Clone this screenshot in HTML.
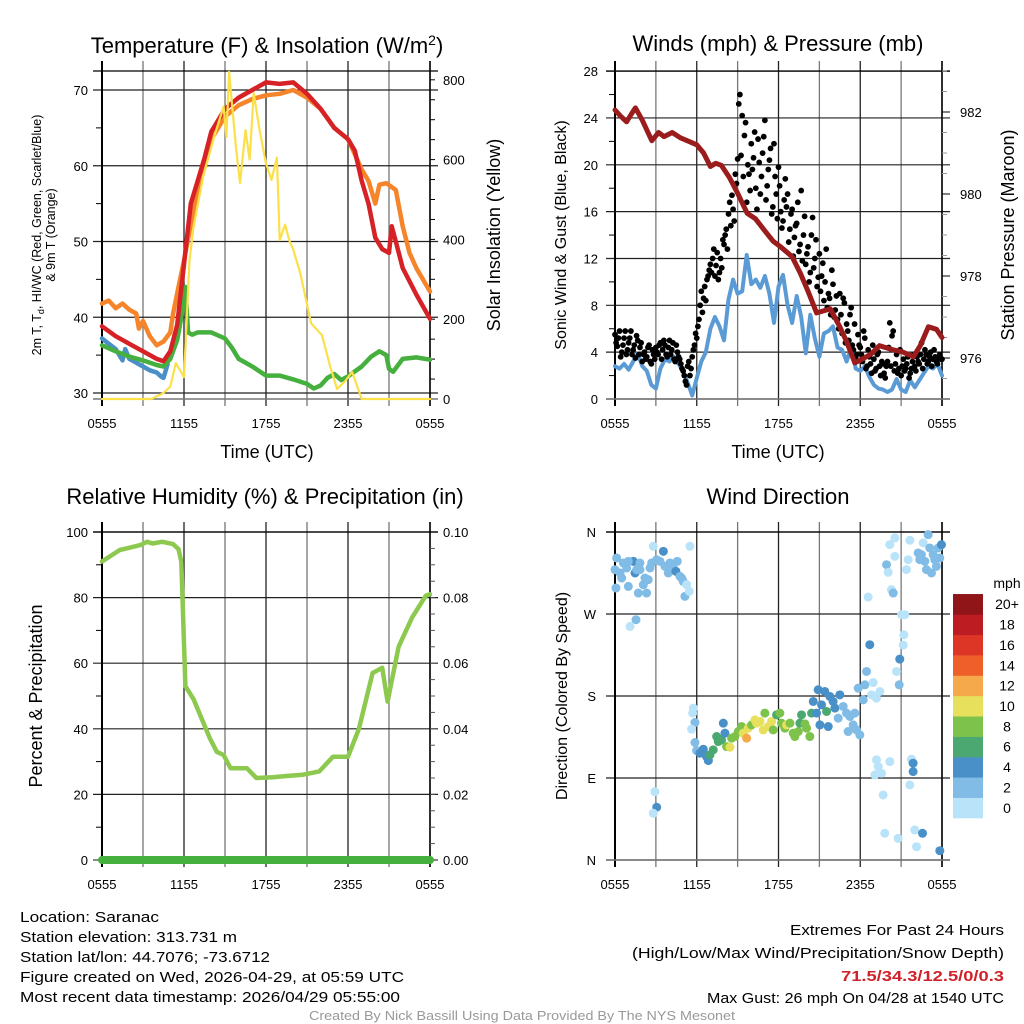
<!DOCTYPE html>
<html><head><meta charset="utf-8"><style>
html,body{margin:0;padding:0;background:#fff;}
svg{display:block;font-family:"Liberation Sans",sans-serif;}
</style></head><body>
<svg id="c" width="1024" height="1024" viewBox="0 0 1024 1024"></svg>
<script>
// ---------- DATA ----------
const tempRedH=[0,1,2,3,4,4.5,5,5.5,6,6.5,7,7.5,8,9,10,11,12,13,14,15,16,17,18,18.5,19,19.5,20,20.5,21,21.2,21.5,22,23,24];
const tempRedV=[38.8,37.5,36.5,35.5,34.5,34.2,35.5,39,47,55,58,61,64.5,67.5,69,70,71,70.8,71,69.5,67.5,65,63.5,62,58,55,50.5,49,48.5,52,50,46.5,43,39.8];
const tempOrH=[0,0.5,1,1.5,2,2.5,2.7,3,3.5,4,4.5,5,5.2,5.6,6,7,8,9,10,11,12,13,14,15,16,17,18,19,19.5,20,20.3,20.8,21.5,22,22.5,23,24];
const tempOrV=[41.8,42.2,41.2,41.8,41,40.5,38.5,39.5,37.5,36.3,36.8,38,40.5,44,47.5,57,63.5,66.5,68,68.8,69.3,69.5,70,69,67.5,65,63.5,59.5,58,55,57.5,57.7,56.8,52,48.5,46.5,43.4];
const dewH=[0,1,2,3,4,4.5,5,5.5,5.8,6.1,6.3,6.6,7,8,9,9.5,10,11,12,13,14,15,15.5,16,16.5,17,17.5,18,19,19.7,20.3,20.8,21,21.3,22,23,24];
const dewV=[36.3,35.5,34.8,34.3,33.7,33.5,34.5,37,40,44,38,37.7,38,38,37.2,36,34.5,33.5,32.3,32.3,31.8,31.2,30.6,31,32,32.5,31.7,32.2,33.5,34.8,35.5,35,33.2,32.8,34.5,34.7,34.4];
const wcH=[0,0.5,1,1.5,1.7,2,2.5,3,3.5,4,4.3,4.5,4.8];
const wcV=[37.2,36.5,35.8,34.3,35.8,34.5,34,33.5,33,32.7,32.2,32,33.8];
const solH=[0,3.6,4.5,5,5.4,6,6.4,6.7,7.4,8.2,8.9,9.1,9.3,9.8,10.1,10.5,10.8,11.1,11.5,12,12.4,12.8,13,13.4,13.7,14,14.5,15.3,16.1,16.7,17.2,17.8,18.3,19,24];
const solV=[0,0,15,31,90,55,348,432,557,657,733,657,820,632,541,674,600,767,680,590,549,605,398,437,398,374,316,190,160,81,25,45,68,0,0];
// winds: sonic every 20 min, gust every 10 min (two offset series)
const sonicV=[2.8,2.6,3.0,2.5,3.2,3.9,2.8,2.4,1.2,0.9,2.6,3.4,3.2,3.6,3.0,2.4,1.4,0.3,1.8,3.2,4.0,6.0,7.0,6.2,5.0,8.5,10.2,9.0,9.2,12.3,9.8,10.2,9.5,10.5,9.0,6.5,9.6,10.6,8.0,6.5,8.8,7.0,3.9,7.2,5.2,3.6,5.6,5.8,6.2,4.4,4.2,3.2,4.4,2.6,2.4,2.8,1.9,1.2,0.9,0.8,0.6,0.8,1.7,0.8,0.6,1.6,1.0,1.6,2.2,2.8,2.6,3.0,2.0];
const gustV=[5.5,4.5,5.8,4,5.2,3.8,4.8,5.8,4.2,3.5,5,4.4,3.2,4,3.6,4.6,3,3.8,4.4,3.8,4.8,4.2,4.6,3.6,5,4.2,3.4,4.6,3.6,3,2.4,1.5,2.8,2,3.6,4.6,5.2,6.8,9.2,8.6,8.4,10.5,11.5,12,10.5,12.5,10.8,11.2,13.2,14.5,15.8,14.8,16.2,19.2,20.5,26,24.2,22.5,16.8,19.2,21.8,20.6,18,22.2,17.5,21,23.8,18.2,20.4,15.8,21.8,17.5,19.8,16,15.2,18.8,17.5,14.5,16.2,13.8,15,12.6,17.8,14,11.5,13,10.8,15.5,12,9.6,12.4,10.5,8.4,12.8,9,7.2,9.8,7.6,6.8,9,5.6,8.2,6.4,5,7.8,4.2,3.6,5.5,4.4,3.2,5.2,2.8,3.6,2.2,3.4,2.6,4,2,3,1.8,3.2,6.5,5.4,2.4,3.8,2.6,2,3.4,2.6,3.6,2.2,3.2,2.8,3.6,3,4.8,3.4,3.8,3.2,4,3.4,3.6,3,3.8,3.4];
const gustV2=[4.8,5.2,3.6,4.6,5.8,4.2,5.2,3.8,4.6,5.4,3.8,4.8,3.8,3.4,4.4,3.2,4.2,3.4,4,4.6,3.4,5,3.8,4.4,3.8,4.8,3.2,4,3.4,2.6,2,1.2,3.2,2.6,4.2,5.6,6.2,8,7.4,9.6,10.2,11,10.8,12.8,11.4,10.2,12,13.6,14,12.8,16.8,17.4,15.2,18.4,25.2,20.8,19,23.6,20,17.8,19.6,22.8,16.2,20.2,19,22.4,17,19.6,21.4,16.4,19,15.4,18.2,14.6,17,16.4,13.4,15.8,12.2,14.8,16.8,13.2,11.8,15.6,12.4,10,14,11.2,13.6,10.4,9.2,11.6,10,7.8,8.6,11,7,8.8,6,7.2,8.6,4.8,5.8,7.2,4.6,6.4,3.8,4.6,3.8,5.8,2.6,4.2,3,4.6,2.4,3.8,2.8,3.2,2.2,2.8,4.4,2.8,5.8,3,2.2,4.2,2.8,2.4,3,1.8,2.6,3.8,2.4,3.2,3.8,2.6,4.2,3,3.6,2.8,4.2,3.2,3.6,3.4];
const presH=[0,0.4,0.85,1.2,1.5,2,2.7,3.2,3.6,4.2,4.8,5.3,6,6.5,7,7.4,7.8,8.4,9,9.7,10.3,11,11.6,12.2,13,13.6,14.2,14.8,15.3,15.8,16.5,17,17.6,18.3,18.8,19.4,20.4,21.1,21.9,22.4,23,23.6,24];
const presV=[982.05,981.9,981.76,981.95,982.1,981.8,981.3,981.5,981.4,981.5,981.37,981.3,981.2,981.0,980.67,980.75,980.7,980.4,980.02,979.53,979.4,979.1,978.85,978.7,978.47,978.07,977.6,977.1,977.15,977.2,976.76,976.4,975.88,976,976.1,976.3,976.2,976.15,976.03,976.3,976.76,976.7,976.5];
const rhH=[0,1.3,2.8,3.3,3.7,4.4,5.2,5.6,5.8,6.1,6.7,7.3,7.9,8.4,8.9,9.4,10.6,11.3,12.5,13.5,14.7,15.9,16.9,18,18.8,19.8,20.5,20.9,21.7,22.7,23.7,24];
const rhV=[91,94.5,96,97,96.5,97,96.3,94.8,91,53,49,43,37,33,32,28,28,25,25.2,25.6,26,27,31.5,31.5,40,57,58.6,48.3,65,74,80.6,81];
const precipH=[0,24];
const precipV=[0,0];
const dirH=[0,0.12,0.37,0.61,0.86,0.98,1.34,1.47,1.59,1.71,1.83,2.08,2.2,2.32,2.44,2.57,2.69,2.81,3.06,3.3,3.55,3.67,3.91,4.03,4.28,4.47,4.57,4.77,4.89,5.01,5.13,5.26,5.45,5.5,1.1,1.54,0.07,0.98,1.83,0.49,2.93,3.06,2.81,
5.75,5.7,5.87,5.62,5.87,5.99,6.23,6.48,6.72,6.85,6.97,7.21,7.46,7.58,7.82,7.95,8.07,8.19,8.44,8.56,8.8,9.05,9.29,9.41,9.66,9.78,10.02,10.27,10.39,10.64,10.88,11,11.25,11.49,11.61,11.86,12.1,12.22,12.47,12.59,12.84,13.08,13.2,13.45,13.57,13.69,13.94,14.06,14.3,14.43,14.55,14.79,14.91,15.04,15.16,15.4,15.53,15.65,15.77,16.01,16.14,16.38,16.5,16.75,16.99,17.11,17.24,17.48,17.6,17.73,17.97,17.85,18.22,18.34,18.46,18.7,18.83,18.95,19.19,19.44,
18.58,19.93,20.05,20.17,20.29,20.42,20.54,20.54,20.66,20.86,20.9,21.03,21.15,21.2,21.27,21.39,21.52,21.64,22.25,22.37,22.49,22.62,22.74,22.86,22.98,23.1,23.23,23.35,23.47,23.59,23.72,23.84,23.96,
19.19,19.32,19.07,19.56,19.68,20.17,19.8,20.78,21.76,21.88,21.88,21.64,22,22.13,22.57,23.84];
const dirDeg=[318.6,331.5,315,326,320.5,300.3,327.8,315,318.7,293,326,302.2,309.5,293,307.7,320.5,326,344.3,329.6,327.8,338.8,322.3,315,326,320.5,316.8,327.8,311.3,309.5,305.8,289.4,302.2,294.9,344.3,256.4,263.7,298.5,327.8,318.7,309.5,75,57.9,51.3,
166.7,161.2,150.9,143.6,128.9,120.1,117.2,121.6,113.5,109.1,115.4,120.9,135.5,130,131.8,150.2,139.2,124.5,123.8,133.7,135.5,141,146.5,139.2,133.7,144.7,148.3,153.8,150.2,152,142.8,161.2,146.5,152,142.8,159.3,161.2,150.2,144.7,148.3,150.2,139.2,135.5,141,150.2,159.3,149.4,144.7,135.5,161.2,174,161.2,186.8,148.3,170.3,185,163,146.5,179.5,174,166.7,155.7,181.3,168.5,161.2,141,157.5,148.3,161.2,142.8,137.3,188.6,175.8,192.3,206.9,236.3,181.3,194.8,177.6,185,
288.6,324.1,315.7,346.2,296.7,293,333.3,353.5,206.9,192.3,220.5,269.2,235.9,247.2,269.2,318.7,329.6,350.9,337,329.6,335.1,348,327.8,318.7,357.1,342.5,315,335.1,329.6,322.3,342.5,331.5,346.1,
109.9,102.5,93.4,95.2,71.4,108,29.3,23.8,110.6,106.2,97,82.4,33,14.6,29.3,10.2];
const dirSpd=[3,3,3,3,3,3,5,5,3,3,3,3,3,3,3,3,3,1,3,3,5,3,3,3,3,5,3,3,3,3,3,1,1,1,1,3,3,3,3,3,1,5,1,
1,1,3,1,3,3,5,5,5,5,7,7,7,7,7,5,5,9,11,9,9,9,9,11,13,11,9,11,11,11,11,9,11,11,9,7,9,9,9,11,9,9,9,9,7,7,9,9,9,7,5,5,5,5,5,5,7,5,5,5,5,3,5,3,3,3,3,3,3,3,3,3,3,3,3,5,1,1,1,1,
1,3,1,1,1,3,1,1,1,3,5,1,1,1,1,1,1,1,3,3,3,1,3,3,3,3,3,3,3,3,3,3,5,
1,1,1,1,1,1,1,1,1,5,5,1,1,1,5,5];
const cbLabels=["0","2","4","6","8","10","12","14","16","18","20+"];
const cbColors=["#b8e3f8","#80bce6","#4a90c8","#4aa870","#7dc24b","#e6e05c","#f5a94a","#ef5f29","#dd3526","#bd1c23","#8f1519"];
const xTickLabels=["0555","1155","1755","2355","0555"];
// ---------- DRAW ----------
const svg=document.getElementById('c');const NS='http://www.w3.org/2000/svg';
function el(tag,attrs,parent){const e=document.createElementNS(NS,tag);for(const k in attrs)e.setAttribute(k,attrs[k]);(parent||svg).appendChild(e);return e;}
function txt(s,x,y,size,anchor,extra,parent){const t=el('text',Object.assign({x:x,y:y,'font-size':size,'text-anchor':anchor||'middle',fill:'#000'},extra||{}),parent);t.textContent=s;return t;}
function poly(hs,vs,xf,yf,color,w,name,parent){const pts=hs.map((h,i)=>xf(h).toFixed(1)+','+yf(vs[i]).toFixed(1)).join(' ');const p=el('polyline',{points:pts,fill:'none',stroke:color,'stroke-width':w,'stroke-linejoin':'round','stroke-linecap':'round'},parent);

return p;}
function frame(L,R,T,B,hLines,name){const g=el('g',{});


for(let i=0;i<=8;i++){const x=L+(R-L)*i/8;el('line',{x1:x,x2:x,y1:T-10,y2:B+7,stroke:i%2?'#777':'#222','stroke-width':1.3},g);}
hLines.forEach(y=>el('line',{x1:L-9,x2:R+8,y1:y,y2:y,stroke:'#222','stroke-width':1.2},g));
el('line',{x1:L,x2:L,y1:T-10,y2:B+7,stroke:'#000','stroke-width':2},g);
el('line',{x1:R,x2:R,y1:T-10,y2:B+7,stroke:'#000','stroke-width':1.5},g);
el('line',{x1:L-9,x2:R+8,y1:T,y2:T,stroke:'#000','stroke-width':1.3},g);
el('line',{x1:L-9,x2:R+8,y1:B,y2:B,stroke:'#777','stroke-width':1.5},g);
xTickLabels.forEach((s,i)=>{const t=txt(s,L+(R-L)*i/4,B+29,13,'middle',{},g);

});
return g;}
function title(s,x,y,name,size){const t=txt(s,x,y,size||22,'middle');

return t;}

// Panel 1
{const L=102,R=430,T=71,B=399;const xs=h=>L+h*(R-L)/24;const yT=v=>90+(70-v)*7.575;const yS=v=>399-v*0.399;
const g=frame(L,R,T,B,[30,40,50,60,70].map(yT),'temperature-panel');
[35,45,55,65].forEach(v=>el('line',{x1:L-6,x2:L,y1:yT(v),y2:yT(v),stroke:'#000'},g));
for(let s=50;s<=800;s+=50)el('line',{x1:R,x2:R+5,y1:yS(s),y2:yS(s),stroke:'#000'},g);
[30,40,50,60,70].forEach(v=>{const t=txt(String(v),88,yT(v)+5,13,'end',{},g);

});
[0,200,400,600,800].forEach(v=>{const t=txt(String(v),443,yS(v)+5,13,'start',{},g);

});
poly(wcH,wcV,xs,yT,'#4a90c8',4.5,'wind-chill-line',g);
poly(dewH,dewV,xs,yT,'#46b03f',4.5,'dewpoint-line',g);
poly(tempOrH,tempOrV,xs,yT,'#f5842a',4.5,'temp-9m-line',g);
poly(tempRedH,tempRedV,xs,yT,'#d62226',4.5,'temp-2m-line',g);
poly(solH,solV,xs,yS,'#fbe04a',2.2,'solar-line',g);
const t1=el('text',{x:267,y:53,'font-size':22,'text-anchor':'middle'});t1.innerHTML='Temperature (F) &amp; Insolation (W/m<tspan dy="-8" font-size="14">2</tspan><tspan dy="8">)</tspan>';


title('Time (UTC)',267,458,'x-axis-title-temp',18);
const ya=el('text',{transform:'translate(41,235) rotate(-90)','font-size':12.5,'text-anchor':'middle'});ya.innerHTML='2m T, T<tspan font-size="9" dy="3">d</tspan><tspan dy="-3">, HI/WC (Red, Green, Scarlet/Blue)</tspan>';


const yb=txt('& 9m T (Orange)',0,0,12.5,'middle',{transform:'translate(55,235) rotate(-90)'});


const yr=txt('Solar Insolation (Yellow)',0,0,18,'middle',{transform:'translate(500,235) rotate(-90)'});

}

// Panel 2
{const L=615,R=942,T=71,B=399;const xs=h=>L+h*(R-L)/24;const yW=v=>399-v*11.71;const yP=v=>112+(982-v)*41;
const g=frame(L,R,T,B,[0,4,8,12,16,20,24,28].map(yW),'winds-panel');
[2,6,10,14,18,22,26].forEach(v=>el('line',{x1:L-6,x2:L,y1:yW(v),y2:yW(v),stroke:'#000'},g));
for(let p=975.5;p<=983;p+=0.5)el('line',{x1:R,x2:R+(p%2==0?8:5),y1:yP(p),y2:yP(p),stroke:p%2==0?'#000':'#999'},g);
[0,4,8,12,16,20,24,28].forEach(v=>{const t=txt(String(v),598,yW(v)+5,13,'end',{},g);

});
[976,978,980,982].forEach(v=>{const t=txt(String(v),960,yP(v)+5,13,'start',{},g);

});
const sonicH=sonicV.map((v,i)=>i/3);
poly(sonicH,sonicV,xs,yW,'#5b9bd5',4,'sonic-wind-line',g);
gustV.forEach((v,i)=>{const c=el('circle',{cx:xs(i/6),cy:yW(v),r:2.9,fill:'#000'},g);

});
gustV2.forEach((v,i)=>{const c=el('circle',{cx:xs(i/6+1/12),cy:yW(v),r:2.9,fill:'#000'},g);

});
poly(presH,presV,xs,yP,'#9b1c1c',5,'pressure-line',g);
title('Winds (mph) & Pressure (mb)',778,51,'winds-title');
title('Time (UTC)',778,458,'x-axis-title-winds',18);
const ya=txt('Sonic Wind & Gust (Blue, Black)',0,0,16,'middle',{transform:'translate(566,235) rotate(-90)'});


const yr=txt('Station Pressure (Maroon)',0,0,18,'middle',{transform:'translate(1014,235) rotate(-90)'});

}

// Panel 3
{const L=102,R=430,T=532,B=860;const xs=h=>L+h*(R-L)/24;const yR=v=>860-v*3.28;const yPr=v=>860-v*3280;
const g=frame(L,R,T,B,[0,20,40,60,80,100].map(yR),'humidity-panel');
[10,30,50,70,90].forEach(v=>el('line',{x1:L-6,x2:L,y1:yR(v),y2:yR(v),stroke:'#000'},g));
for(let i=1;i<20;i++)el('line',{x1:R,x2:R+5,y1:yPr(i*0.005),y2:yPr(i*0.005),stroke:'#555'},g);
[0,20,40,60,80,100].forEach(v=>{const t=txt(String(v),88,yR(v)+5,13,'end',{},g);

});
[0,0.02,0.04,0.06,0.08,0.10].forEach(v=>{const t=txt(v.toFixed(2),443,yPr(v)+5,13,'start',{},g);

});
poly(precipH,precipV,xs,yPr,'#46b03f',8,'precip-line',g);
poly(rhH,rhV,xs,yR,'#8dc94f',4.5,'rh-line',g);
title('Relative Humidity (%) & Precipitation (in)',265,504,'humidity-title');
const ya=txt('Percent & Precipitation',0,0,18,'middle',{transform:'translate(42,696) rotate(-90)'});

}

// Panel 4
{const L=615,R=942,T=532,B=860;const xs=h=>L+h*(R-L)/24;const yD=v=>860-v*328/360;
const g=frame(L,R,T,B,[0,90,180,270,360].map(yD),'wind-direction-panel');
const lab=['N','E','S','W','N'];[0,90,180,270,360].forEach((v,i)=>{const t=txt(lab[i],596,yD(v)+5,13,'end',{},g);

});
dirH.forEach((h,i)=>{const bin=Math.min(10,Math.floor(dirSpd[i]/2));const c=el('circle',{cx:xs(h),cy:yD(dirDeg[i]),r:4.5,fill:cbColors[bin]},g);

});
title('Wind Direction',778,504,'direction-title');
const ya=txt('Direction (Colored By Speed)',0,0,16,'middle',{transform:'translate(567,696) rotate(-90)'});


const cb=el('g',{});


const bh=20.36;cbColors.forEach((c,i)=>{const y=818-(i+1)*bh;el('rect',{x:953,y:y,width:30,height:bh+0.3,fill:c},cb);
const t=txt(cbLabels[i],1007,y+bh/2+5,14,'middle',{},cb);

});
const m=txt('mph',1007,588,14,'middle',{},cb);

}

// Footer text
const left=[['Location: Saranac',139],['Station elevation: 313.731 m',217],['Station lat/lon: 44.7076; -73.6712',250],['Figure created on Wed, 2026-04-29, at 05:59 UTC',384],['Most recent data timestamp: 2026/04/29 05:55:00',380]];
left.forEach((l,i)=>{const t=txt(l[0],20,922+i*20,15,'start',{textLength:l[1],lengthAdjust:'spacingAndGlyphs'});

});
const right=[['Extremes For Past 24 Hours',214,935,{}],['(High/Low/Max Wind/Precipitation/Snow Depth)',372,958,{}],['71.5/34.3/12.5/0/0.3',163,981,{fill:'#d0222a','font-weight':'bold'}],['Max Gust: 26 mph On 04/28 at 1540 UTC',297,1003,{}]];
right.forEach(r=>{const t=txt(r[0],1004-r[1],r[2],15,'start',Object.assign({textLength:r[1],lengthAdjust:'spacingAndGlyphs'},r[3]));

});
const cr=txt('Created By Nick Bassill Using Data Provided By The NYS Mesonet',309,1020,12.5,'start',{fill:'#999',textLength:426,lengthAdjust:'spacingAndGlyphs'});


</script>
</body></html>
